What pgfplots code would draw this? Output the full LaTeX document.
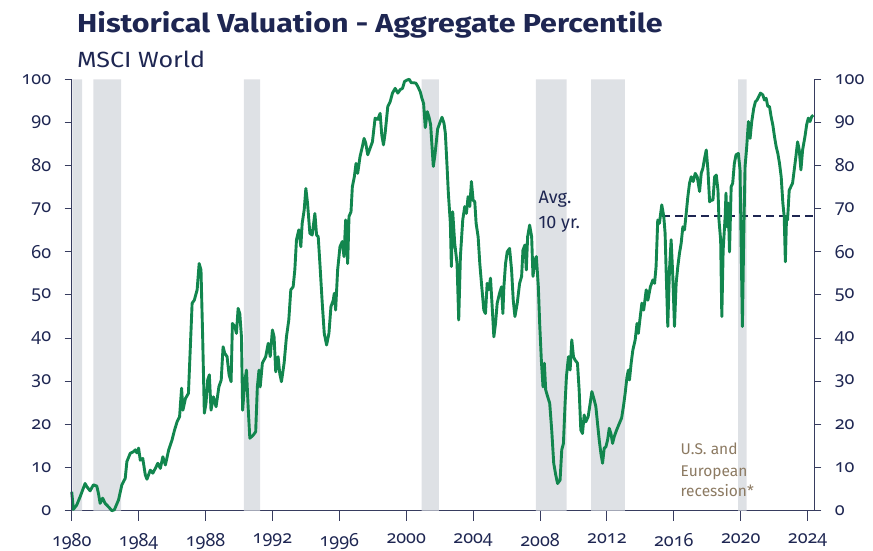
\documentclass[border=0pt]{standalone}
\usepackage{fontspec}
\setmainfont{Fira Sans}
\newfontfamily\numfont{Noto Sans}[Numbers=OldStyle]
\newfontfamily\titlefont{Fira Sans}[FakeStretch=1.17]
\newfontfamily\subfont{Fira Sans}[FakeStretch=1.14]
\usepackage{pgfplots}
\pgfplotsset{compat=1.18}
\definecolor{navy}{RGB}{30,38,82}
\definecolor{lgreen}{RGB}{18,134,78}
\definecolor{band}{RGB}{222,225,229}
\definecolor{tanc}{RGB}{140,122,98}
\definecolor{axisc}{RGB}{55,60,95}
\newcommand\tfont{\numfont\fontsize{18}{18}\selectfont}
\pgfplotsset{yside/.style={at={(0,0)}, anchor=south west,
  scale only axis, width=742.6pt, height=431.4pt,
  xmin=1980, xmax=2024.4, ymin=0, ymax=100,
  axis x line=none,
  axis line style={axisc, line width=1pt, -},
  ytick={0,10,...,100},
  tick style={axisc, line width=1pt}, tick align=outside,
  major tick length=7pt,
  /pgf/number format/assume math mode=true}}
\pgfplotstableread{
x y
1980.00 4.4
1980.10 0.3
1980.30 1.3
1980.50 3.2
1980.80 6.3
1980.90 5.6
1981.10 4.6
1981.30 6.0
1981.50 5.7
1981.60 4.0
1981.70 1.7
1981.85 2.9
1982.00 1.7
1982.20 0.9
1982.40 0.0
1982.55 0.2
1982.80 2.5
1983.00 6.0
1983.20 7.5
1983.30 11.4
1983.50 13.3
1983.70 13.7
1983.80 14.1
1983.90 13.4
1984.00 14.5
1984.10 11.7
1984.25 12.1
1984.40 8.3
1984.50 7.3
1984.70 9.4
1984.85 8.7
1985.00 9.8
1985.15 11.0
1985.30 9.8
1985.45 12.5
1985.60 10.6
1985.80 14.1
1986.00 16.4
1986.15 18.7
1986.30 20.6
1986.45 21.8
1986.57 28.4
1986.65 23.3
1986.80 26.0
1986.98 27.2
1987.20 48.1
1987.33 48.8
1987.50 51.2
1987.62 57.3
1987.73 55.8
1987.83 40.3
1987.93 22.6
1988.03 24.9
1988.13 30.3
1988.23 31.5
1988.33 23.3
1988.47 26.4
1988.63 24.1
1988.80 28.7
1988.94 30.3
1989.05 38.0
1989.15 36.5
1989.29 35.7
1989.41 31.5
1989.53 29.9
1989.61 43.4
1989.75 42.7
1989.85 41.1
1989.95 46.9
1990.05 45.7
1990.15 40.3
1990.22 23.3
1990.35 30.0
1990.45 32.6
1990.55 24.0
1990.65 16.8
1990.85 17.5
1991.00 18.3
1991.10 28.7
1991.20 32.6
1991.27 28.7
1991.40 34.2
1991.60 35.7
1991.75 38.8
1991.87 35.7
1992.00 41.9
1992.10 40.3
1992.20 32.2
1992.34 35.7
1992.44 31.8
1992.54 29.9
1992.70 34.2
1992.84 40.3
1992.98 44.2
1993.10 51.2
1993.24 51.9
1993.34 55.8
1993.44 62.8
1993.58 65.1
1993.70 61.2
1993.78 66.6
1993.90 69.7
1994.00 74.7
1994.10 71.3
1994.24 64.3
1994.38 63.9
1994.54 68.9
1994.64 63.9
1994.74 63.5
1994.84 57.3
1994.98 48.1
1995.10 41.1
1995.24 38.4
1995.38 41.1
1995.50 47.3
1995.64 48.8
1995.70 50.4
1995.78 46.5
1995.90 55.8
1996.04 61.2
1996.18 62.4
1996.28 58.9
1996.38 67.4
1996.50 57.3
1996.58 68.2
1996.70 69.3
1996.78 75.1
1996.90 77.4
1997.00 80.5
1997.10 78.2
1997.24 82.1
1997.38 84.4
1997.48 86.3
1997.58 85.2
1997.70 82.5
1997.84 84.0
1997.98 85.5
1998.14 91.0
1998.30 90.7
1998.44 92.1
1998.54 87.1
1998.64 84.8
1998.74 87.5
1998.90 93.7
1999.04 94.8
1999.18 96.8
1999.34 97.9
1999.50 96.8
1999.64 97.6
1999.78 97.9
1999.90 99.5
2000.04 99.8
2000.18 100
2000.30 99.2
2000.44 99.2
2000.58 99.1
2000.70 98.3
2000.84 97.1
2000.94 95.6
2001.04 94.4
2001.14 88.8
2001.26 92.5
2001.36 91.3
2001.46 89.5
2001.62 79.8
2001.72 82.5
2001.88 88.5
2002.02 90.0
2002.14 91.2
2002.26 89.8
2002.34 87.5
2002.44 80.0
2002.52 73.6
2002.64 66.6
2002.70 56.6
2002.78 69.3
2002.90 62.0
2003.04 57.3
2003.14 44.2
2003.24 58.9
2003.38 67.4
2003.50 70.5
2003.60 68.9
2003.70 72.8
2003.80 70.5
2003.90 76.3
2004.00 72.0
2004.10 71.6
2004.18 66.6
2004.30 63.5
2004.40 57.3
2004.50 52.7
2004.64 46.5
2004.74 45.7
2004.84 52.7
2004.94 51.2
2005.04 53.9
2005.14 47.3
2005.24 40.3
2005.34 43.4
2005.44 48.1
2005.58 50.4
2005.70 51.9
2005.78 45.7
2005.84 51.9
2005.94 57.3
2006.04 60.0
2006.18 60.8
2006.30 55.8
2006.40 48.8
2006.50 45.0
2006.64 48.1
2006.78 52.7
2006.90 54.3
2006.98 60.4
2007.10 61.6
2007.18 55.8
2007.26 63.5
2007.38 66.2
2007.50 63.5
2007.58 54.3
2007.70 58.1
2007.78 58.9
2007.90 51.9
2007.98 43.4
2008.08 34.9
2008.18 28.7
2008.26 34.2
2008.34 28.0
2008.46 26.4
2008.58 24.9
2008.70 18.7
2008.82 11.0
2008.94 8.3
2009.05 6.3
2009.20 7.1
2009.30 14.1
2009.40 15.6
2009.50 24.9
2009.58 31.1
2009.70 35.7
2009.80 32.6
2009.90 39.6
2010.00 35.7
2010.10 34.9
2010.24 34.2
2010.34 28.0
2010.44 18.7
2010.54 17.9
2010.64 22.2
2010.74 20.6
2010.88 21.8
2011.00 24.9
2011.10 27.6
2011.24 25.7
2011.34 24.1
2011.44 20.2
2011.54 16.4
2011.64 13.3
2011.74 11.0
2011.84 14.5
2011.94 14.8
2012.04 16.4
2012.14 19.1
2012.24 17.9
2012.34 15.6
2012.44 17.2
2012.58 18.7
2012.74 20.2
2012.88 21.5
2013.00 24.5
2013.10 27.5
2013.20 31.0
2013.28 32.6
2013.35 30.3
2013.45 34.2
2013.55 37.2
2013.69 39.6
2013.80 43.4
2013.88 41.1
2013.97 44.2
2014.09 48.1
2014.20 46.5
2014.35 51.2
2014.45 48.8
2014.60 51.9
2014.75 53.5
2014.85 52.7
2014.94 56.6
2015.04 67.4
2015.14 66.6
2015.28 70.9
2015.40 68.2
2015.48 64.3
2015.54 55.8
2015.64 42.7
2015.74 55.8
2015.84 62.8
2015.94 54.3
2016.04 42.7
2016.14 52.7
2016.24 56.6
2016.34 59.7
2016.44 62.0
2016.54 65.8
2016.64 65.1
2016.74 68.9
2016.84 72.8
2016.94 75.9
2017.04 77.4
2017.16 76.3
2017.28 78.2
2017.40 77.4
2017.54 74.0
2017.64 78.2
2017.74 79.4
2017.84 81.7
2017.94 83.6
2018.04 79.0
2018.14 71.6
2018.24 72.0
2018.34 72.0
2018.44 77.4
2018.54 77.8
2018.64 74.3
2018.70 67.4
2018.80 62.8
2018.87 45.0
2018.95 60.4
2019.07 68.2
2019.12 73.6
2019.17 65.8
2019.25 71.3
2019.33 60.0
2019.43 75.1
2019.52 75.9
2019.62 80.5
2019.72 82.5
2019.86 82.8
2019.96 79.0
2020.02 63.5
2020.10 42.7
2020.18 63.5
2020.26 79.8
2020.36 84.4
2020.46 90.2
2020.56 86.3
2020.66 90.2
2020.78 93.3
2020.88 94.8
2020.98 95.2
2021.08 96.0
2021.18 96.8
2021.32 96.4
2021.42 95.2
2021.52 95.6
2021.62 93.7
2021.72 93.7
2021.82 91.3
2021.92 89.4
2022.02 86.7
2022.12 84.4
2022.22 82.8
2022.32 80.5
2022.42 77.4
2022.52 71.3
2022.60 68.2
2022.67 57.7
2022.74 68.2
2022.80 67.4
2022.90 74.3
2023.00 75.1
2023.10 75.9
2023.20 79.0
2023.30 82.1
2023.40 85.5
2023.50 83.6
2023.60 79.0
2023.70 83.6
2023.84 86.7
2023.94 89.4
2024.04 91.0
2024.14 90.2
2024.24 91.3
2024.34 91.7
}\valuation
\begin{document}
\begin{tikzpicture}
\begin{axis}[name=ax, at={(0,0)}, anchor=south west,
  scale only axis, width=742.6pt, height=431.4pt,
  xmin=1980, xmax=2024.4, ymin=0, ymax=100,
  axis x line*=bottom, axis y line=none,
  axis line style={axisc, line width=1pt, -},
  xtick={1980,1984,...,2024},
  tick style={axisc, line width=1pt}, tick align=outside,
  major tick length=10pt,
  /pgf/number format/assume math mode=true,
  /pgf/number format/1000 sep={},
  xticklabel style={font=\tfont, text=navy, yshift=-9pt},
  clip=false]
  \addplot[fill=band, draw=none] coordinates {(1980.04,0)(1980.04,100)(1980.63,100)(1980.63,0)} \closedcycle;
  \addplot[fill=band, draw=none] coordinates {(1981.29,0)(1981.29,100)(1982.95,100)(1982.95,0)} \closedcycle;
  \addplot[fill=band, draw=none] coordinates {(1990.30,0)(1990.30,100)(1991.26,100)(1991.26,0)} \closedcycle;
  \addplot[fill=band, draw=none] coordinates {(2000.92,0)(2000.92,100)(2001.96,100)(2001.96,0)} \closedcycle;
  \addplot[fill=band, draw=none] coordinates {(2007.76,0)(2007.76,100)(2009.59,100)(2009.59,0)} \closedcycle;
  \addplot[fill=band, draw=none] coordinates {(2011.05,0)(2011.05,100)(2013.08,100)(2013.08,0)} \closedcycle;
  \addplot[fill=band, draw=none] coordinates {(2019.85,0)(2019.85,100)(2020.35,100)(2020.35,0)} \closedcycle;
  \addplot[navy, line width=2pt, dash pattern=on 8pt off 5pt] coordinates {(2015.3,68.2)(2024.4,68.2)};
  \addplot[lgreen, line width=2.9pt, line join=round] table[x=x,y=y] {\valuation};
  \node[anchor=base west, inner sep=0pt, font=\fontsize{18}{18}\selectfont, text=navy] at (axis cs:2007.9,71.3) {Avg.};
  \node[anchor=base west, inner sep=0pt, font=\fontsize{18}{18}\selectfont, text=navy] at (axis cs:2007.9,65.3) {10 yr.};
  \node[anchor=base west, inner sep=0pt, font=\fontsize{15.5}{15.5}\selectfont, text=tanc] at (axis cs:2016.4,13.0) {U.S. and};
  \node[anchor=base west, inner sep=0pt, font=\fontsize{15.5}{15.5}\selectfont, text=tanc] at (axis cs:2016.4,7.9) {European};
  \node[anchor=base west, inner sep=0pt, font=\fontsize{15.5}{15.5}\selectfont, text=tanc] at (axis cs:2016.4,3.3) {recession*};
\end{axis}
\begin{axis}[yside, axis y line*=left,
  yticklabel style={font=\tfont, text=navy, xshift=-10pt}]
  \addplot[draw=none] coordinates {(1980,0)};
\end{axis}
\begin{axis}[yside, axis y line*=right,
  yticklabel style={font=\tfont, text=navy, xshift=10pt}]
  \addplot[draw=none] coordinates {(1980,0)};
\end{axis}
\node[anchor=base west, inner sep=0pt, font=\titlefont\fontsize{26}{26}\bfseries\selectfont, text=navy] at (5.3pt,478pt) {Historical Valuation - Aggregate Percentile};
\node[anchor=base west, inner sep=0pt, font=\subfont\fontsize{22}{22}\selectfont, text=navy] at (5.3pt,443pt) {MSCI World};
\pgfresetboundingbox
\path[use as bounding box] (-71.7pt,-40pt) rectangle (801.3pt,510.7pt);
\end{tikzpicture}
\end{document}
